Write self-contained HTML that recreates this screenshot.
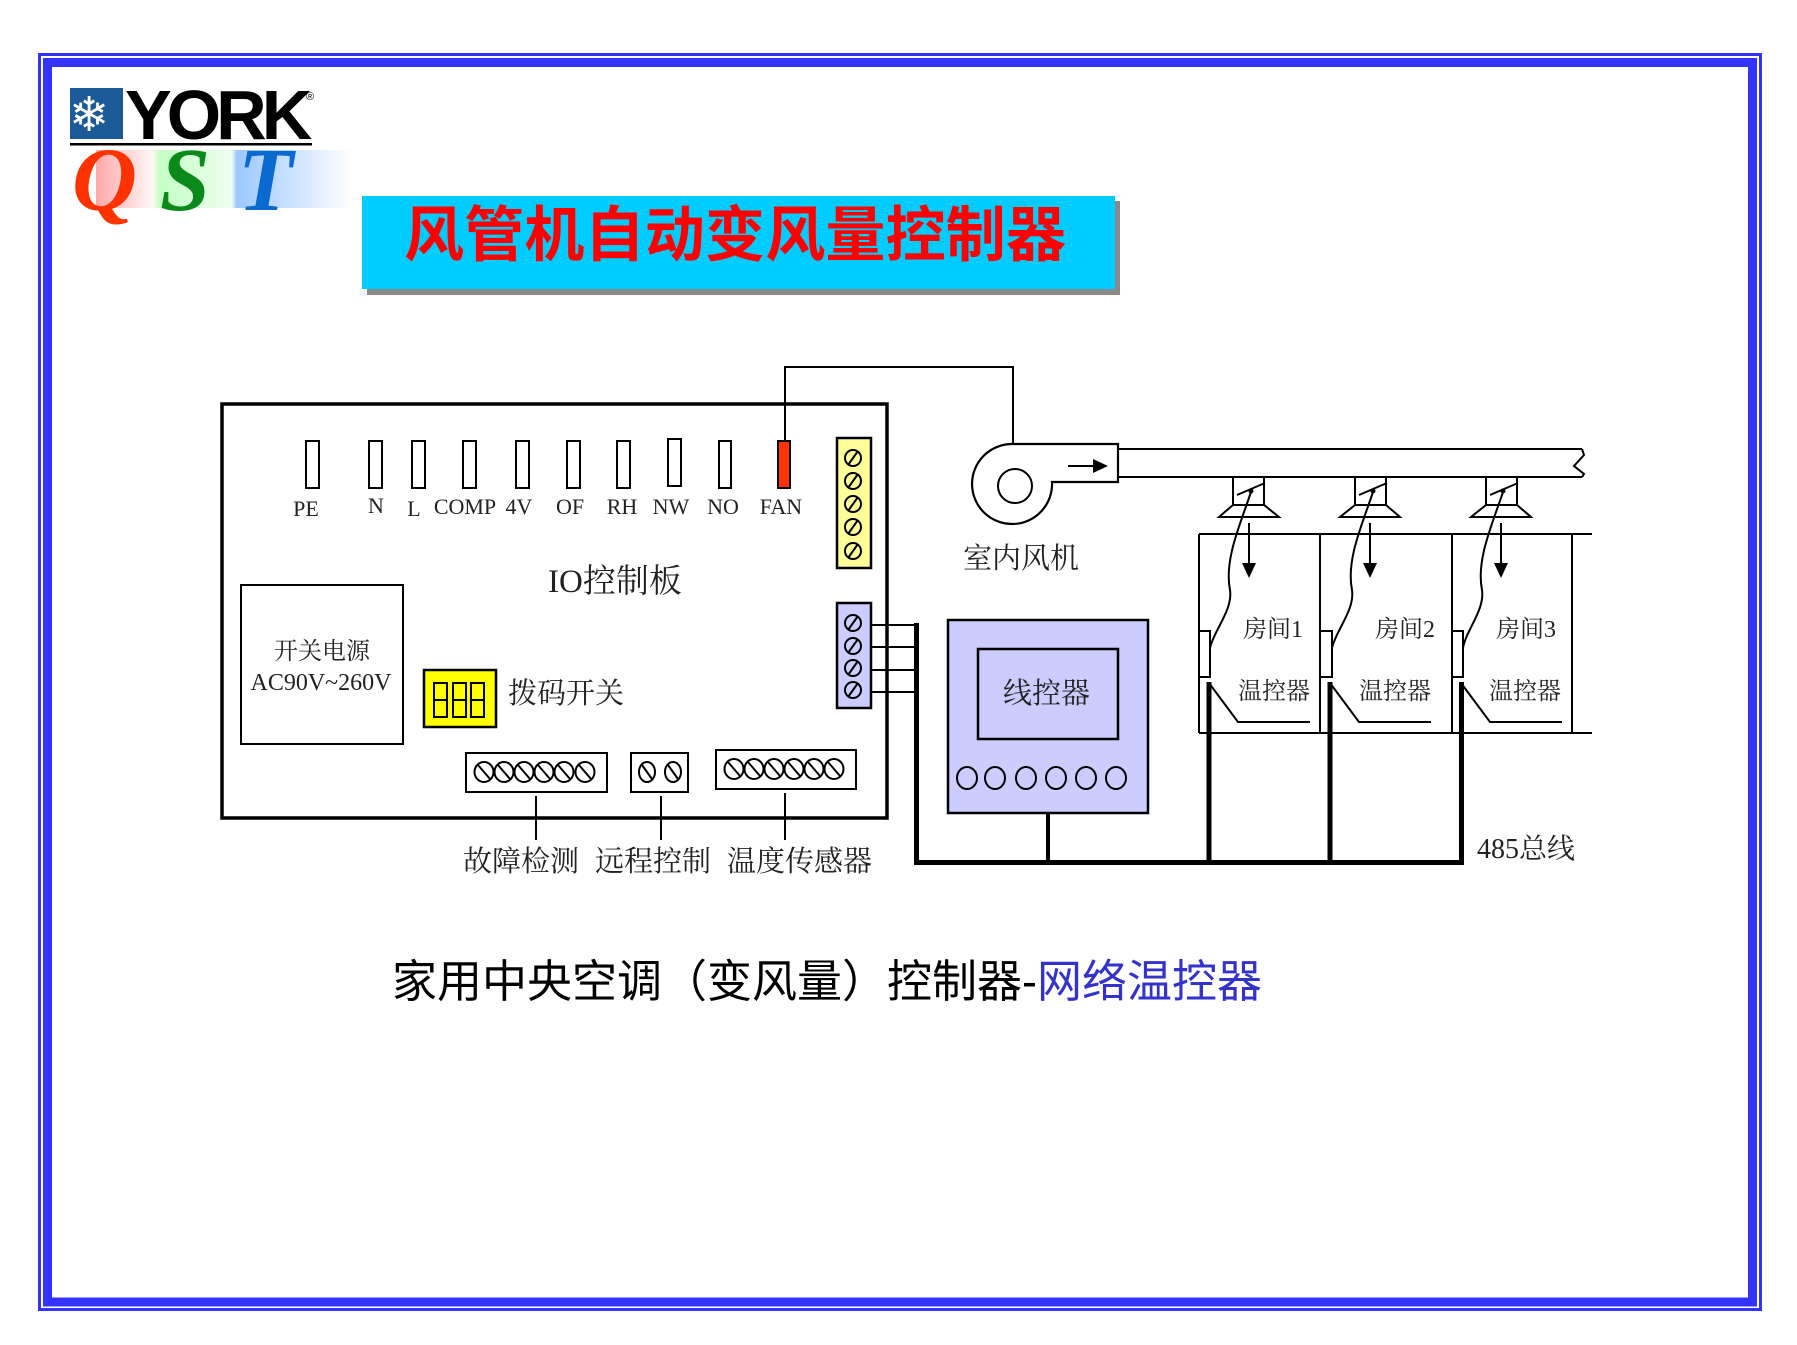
<!DOCTYPE html>
<html><head><meta charset="utf-8">
<style>
html,body{margin:0;padding:0;background:#fff;}
svg{display:block;}
.s{font-family:"Liberation Serif","Noto Serif CJK SC",serif;fill:#222;}
.c{font-family:"Noto Serif CJK SC","Liberation Serif",serif;fill:#222;}
</style></head>
<body>
<svg width="1797" height="1345" viewBox="0 0 1797 1345" xmlns="http://www.w3.org/2000/svg">
<defs>
<linearGradient id="qst" x1="96" y1="0" x2="352" y2="0" gradientUnits="userSpaceOnUse">
<stop offset="0" stop-color="#ffa8a8"/>
<stop offset="0.22" stop-color="#fff6f6"/>
<stop offset="0.25" stop-color="#c4ffc4"/>
<stop offset="0.53" stop-color="#effff0"/>
<stop offset="0.55" stop-color="#9cc8ff"/>
<stop offset="1" stop-color="#ffffff"/>
</linearGradient>
</defs>

<!-- page border -->
<rect x="39.5" y="54.5" width="1721" height="1255" fill="none" stroke="#3333ff" stroke-width="3"/>
<rect x="47.5" y="62.5" width="1705" height="1239.5" fill="none" stroke="#3333ff" stroke-width="9"/>

<!-- YORK logo -->
<rect x="70" y="88" width="53" height="51" fill="#1c5a97"/>
<text x="69" y="131" font-family="DejaVu Sans,sans-serif" font-size="48" fill="#fff">❄</text>
<text x="125" y="139" font-family="Liberation Sans,sans-serif" font-weight="700" font-size="70" letter-spacing="-5" fill="#000">YORK</text>
<text x="306" y="100" font-family="Liberation Sans,sans-serif" font-size="11" fill="#000">®</text>
<rect x="70" y="143" width="242" height="2.5" fill="#000"/>
<rect x="96" y="150" width="256" height="58" fill="url(#qst)"/>
<text x="72" y="210" font-family="Liberation Serif,serif" font-weight="700" font-style="italic" font-size="90" fill="#ff3300">Q</text>
<text x="160" y="210" font-family="Liberation Serif,serif" font-weight="700" font-style="italic" font-size="90" fill="#0a8a1a">S</text>
<text x="238" y="210" font-family="Liberation Serif,serif" font-weight="700" font-style="italic" font-size="90" fill="#0a6ad0">T</text>

<!-- Title -->
<rect x="367" y="201" width="753" height="94" fill="#8a8a8a"/>
<rect x="362" y="196" width="753" height="93" fill="#00ccff"/>
<text x="404" y="256" font-family="Noto Sans CJK SC,sans-serif" font-weight="700" font-size="60" fill="#ff0000" textLength="662" lengthAdjust="spacing">风管机自动变风量控制器</text>

<!-- IO board -->
<rect x="222" y="404" width="665" height="414" fill="none" stroke="#000" stroke-width="3.5"/>

<!-- terminals -->
<g fill="#fff" stroke="#000" stroke-width="2">
<rect x="306" y="441" width="13" height="47"/>
<rect x="369" y="441" width="13" height="47"/>
<rect x="412" y="441" width="13" height="47"/>
<rect x="463" y="441" width="13" height="47"/>
<rect x="516" y="441" width="13" height="47"/>
<rect x="567" y="441" width="13" height="47"/>
<rect x="617" y="441" width="13" height="47"/>
<rect x="668" y="439" width="13" height="47"/>
<rect x="719" y="441" width="12" height="47"/>
<rect x="778" y="441" width="12" height="47" fill="#ff3300"/>
</g>
<g class="s" font-size="22" text-anchor="middle">
<text x="306" y="516">PE</text>
<text x="376" y="513">N</text>
<text x="414" y="516">L</text>
<text x="465" y="514">COMP</text>
<text x="519" y="514">4V</text>
<text x="570" y="514">OF</text>
<text x="622" y="514">RH</text>
<text x="671" y="514">NW</text>
<text x="723" y="514">NO</text>
<text x="781" y="514">FAN</text>
</g>

<!-- FAN wire -->
<polyline points="785,441 785,367 1013,367 1013,444" fill="none" stroke="#000" stroke-width="2"/>

<!-- yellow terminal block -->
<rect x="837" y="438" width="34" height="130" fill="#ffff99" stroke="#000" stroke-width="2.5"/>
<g fill="none" stroke="#000" stroke-width="2">
<circle cx="853" cy="458" r="8"/><line x1="848" y1="465" x2="858" y2="451"/>
<circle cx="853" cy="481" r="8"/><line x1="848" y1="488" x2="858" y2="474"/>
<circle cx="853" cy="504" r="8"/><line x1="848" y1="511" x2="858" y2="497"/>
<circle cx="853" cy="527" r="8"/><line x1="848" y1="534" x2="858" y2="520"/>
<circle cx="853" cy="551" r="8"/><line x1="848" y1="558" x2="858" y2="544"/>
</g>

<!-- blue terminal block -->
<rect x="837" y="603" width="34" height="105" fill="#ccccff" stroke="#000" stroke-width="2.5"/>
<g fill="none" stroke="#000" stroke-width="2">
<circle cx="853" cy="623" r="8"/><line x1="848" y1="630" x2="858" y2="616"/>
<circle cx="853" cy="646" r="8"/><line x1="848" y1="653" x2="858" y2="639"/>
<circle cx="853" cy="668" r="8"/><line x1="848" y1="675" x2="858" y2="661"/>
<circle cx="853" cy="690" r="8"/><line x1="848" y1="697" x2="858" y2="683"/>
</g>
<g stroke="#000" stroke-width="2">
<line x1="871" y1="625" x2="917" y2="625"/>
<line x1="871" y1="647" x2="917" y2="647"/>
<line x1="871" y1="670" x2="917" y2="670"/>
<line x1="871" y1="692" x2="917" y2="692"/>
</g>

<!-- IO label -->
<text x="548" y="592" class="s" font-size="33">IO<tspan class="c">控制板</tspan></text>

<!-- power box -->
<rect x="241" y="585" width="162" height="159" fill="none" stroke="#000" stroke-width="2"/>
<text x="322" y="659" class="c" font-size="24" text-anchor="middle">开关电源</text>
<text x="321" y="690" class="s" font-size="24" text-anchor="middle">AC90V~260V</text>

<!-- DIP switch -->
<rect x="424" y="670" width="72" height="57" fill="#ffff00" stroke="#000" stroke-width="2.5"/>
<g fill="none" stroke="#000" stroke-width="2">
<rect x="434" y="683" width="13" height="34"/><line x1="434" y1="700" x2="447" y2="700"/>
<rect x="453" y="683" width="13" height="34"/><line x1="453" y1="700" x2="466" y2="700"/>
<rect x="471" y="683" width="13" height="34"/><line x1="471" y1="700" x2="484" y2="700"/>
</g>
<text x="508" y="703" class="c" font-size="29">拨码开关</text>

<!-- bottom terminal blocks -->
<g fill="none" stroke="#000" stroke-width="2">
<rect x="466" y="753" width="141" height="39"/>
<rect x="631" y="753" width="57" height="39"/>
<rect x="716" y="750" width="140" height="39"/>
</g>
<g fill="none" stroke="#000" stroke-width="2">
<ellipse cx="484" cy="772" rx="9.5" ry="10"/><line x1="478" y1="765" x2="490" y2="779"/>
<ellipse cx="504" cy="772" rx="9.5" ry="10"/><line x1="498" y1="765" x2="510" y2="779"/>
<ellipse cx="524" cy="772" rx="9.5" ry="10"/><line x1="518" y1="765" x2="530" y2="779"/>
<ellipse cx="544" cy="772" rx="9.5" ry="10"/><line x1="538" y1="765" x2="550" y2="779"/>
<ellipse cx="564" cy="772" rx="9.5" ry="10"/><line x1="558" y1="765" x2="570" y2="779"/>
<ellipse cx="585" cy="772" rx="9.5" ry="10"/><line x1="579" y1="765" x2="591" y2="779"/>
<ellipse cx="647" cy="772" rx="8" ry="10"/><line x1="642" y1="765" x2="652" y2="779"/>
<ellipse cx="673" cy="772" rx="8" ry="10"/><line x1="668" y1="765" x2="678" y2="779"/>
<ellipse cx="734" cy="769" rx="9.5" ry="10"/><line x1="728" y1="762" x2="740" y2="776"/>
<ellipse cx="754" cy="769" rx="9.5" ry="10"/><line x1="748" y1="762" x2="760" y2="776"/>
<ellipse cx="774" cy="769" rx="9.5" ry="10"/><line x1="768" y1="762" x2="780" y2="776"/>
<ellipse cx="794" cy="769" rx="9.5" ry="10"/><line x1="788" y1="762" x2="800" y2="776"/>
<ellipse cx="814" cy="769" rx="9.5" ry="10"/><line x1="808" y1="762" x2="820" y2="776"/>
<ellipse cx="834" cy="769" rx="9.5" ry="10"/><line x1="828" y1="762" x2="840" y2="776"/>
</g>
<g stroke="#000" stroke-width="2">
<line x1="536" y1="796" x2="536" y2="840"/>
<line x1="661" y1="796" x2="661" y2="840"/>
<line x1="785" y1="793" x2="785" y2="840"/>
</g>
<text x="463" y="871" class="c" font-size="29">故障检测</text>
<text x="595" y="871" class="c" font-size="29">远程控制</text>
<text x="727" y="871" class="c" font-size="29">温度传感器</text>

<!-- bus -->
<line x1="916.5" y1="623" x2="916.5" y2="865" stroke="#000" stroke-width="5"/>
<line x1="914" y1="862.5" x2="1464" y2="862.5" stroke="#000" stroke-width="5"/>

<!-- wire controller -->
<rect x="948" y="620" width="200" height="193" fill="#ccccff" stroke="#000" stroke-width="2.5"/>
<rect x="978" y="649" width="140" height="90" fill="#ccccff" stroke="#000" stroke-width="2.5"/>
<text x="1003" y="703" class="c" font-size="29">线控器</text>
<g fill="none" stroke="#000" stroke-width="2">
<ellipse cx="967" cy="778" rx="10" ry="11"/>
<ellipse cx="995" cy="778" rx="10" ry="11"/>
<ellipse cx="1026" cy="778" rx="10" ry="11"/>
<ellipse cx="1056" cy="778" rx="10" ry="11"/>
<ellipse cx="1086" cy="778" rx="10" ry="11"/>
<ellipse cx="1116" cy="778" rx="10" ry="11"/>
</g>
<line x1="1048" y1="813" x2="1048" y2="863" stroke="#000" stroke-width="4"/>

<!-- fan -->
<path d="M1013 444 L1118 444 L1118 482 L1052 482 A40 40 0 1 1 1013 444 Z" fill="#fff" stroke="#000" stroke-width="2.2"/>
<circle cx="1015" cy="486" r="17" fill="none" stroke="#000" stroke-width="2"/>
<line x1="1068" y1="466" x2="1095" y2="466" stroke="#000" stroke-width="2"/>
<polygon points="1093,459 1108,466 1093,473" fill="#000"/>
<text x="963" y="568" class="c" font-size="29">室内风机</text>

<!-- duct -->
<g fill="none" stroke="#000" stroke-width="2">
<line x1="1118" y1="449" x2="1582" y2="449"/>
<line x1="1118" y1="477" x2="1582" y2="477"/>
<polyline points="1582,449 1584,455 1574,466 1584,474 1582,477"/>
</g>

<!-- room lines -->
<g stroke="#000" stroke-width="2" fill="none">
<line x1="1199" y1="534" x2="1592" y2="534"/>
<line x1="1199" y1="733" x2="1592" y2="733"/>
<line x1="1199" y1="534" x2="1199" y2="733"/>
<line x1="1320" y1="534" x2="1320" y2="733"/>
<line x1="1452" y1="534" x2="1452" y2="733"/>
<line x1="1572" y1="534" x2="1572" y2="733"/>
</g>

<!-- room 1 -->
<g fill="none" stroke="#000" stroke-width="2">
<rect x="1233" y="477" width="31" height="28" fill="#fff"/>
<polygon points="1233,505 1219,517 1279,517 1264,505" fill="#fff"/>
<line x1="1237" y1="495" x2="1265" y2="483"/>
<path d="M1251 492 C1240 525 1224 560 1230 590 C1233 610 1214 630 1210 648"/>
<line x1="1249" y1="523" x2="1249" y2="566"/>
<rect x="1199" y="631" width="11" height="46" fill="#fff"/>
<polyline points="1209,683 1238,722 1310,722"/>
</g>
<circle cx="1251" cy="491" r="2.5" fill="#000"/>
<polygon points="1242,563 1256,563 1249,578" fill="#000"/>
<line x1="1209" y1="682" x2="1209" y2="865" stroke="#000" stroke-width="5"/>
<text x="1243" y="637" class="c" font-size="24">房间<tspan class="s">1</tspan></text>
<text x="1238" y="699" class="c" font-size="24">温控器</text>

<!-- room 2 -->
<g fill="none" stroke="#000" stroke-width="2">
<rect x="1355" y="477" width="31" height="28" fill="#fff"/>
<polygon points="1355,505 1340,517 1400,517 1386,505" fill="#fff"/>
<line x1="1359" y1="495" x2="1387" y2="483"/>
<path d="M1373 492 C1362 525 1346 560 1352 590 C1355 610 1336 630 1332 648"/>
<line x1="1370" y1="523" x2="1370" y2="566"/>
<rect x="1320" y="631" width="12" height="46" fill="#fff"/>
<polyline points="1330,683 1359,722 1431,722"/>
</g>
<circle cx="1373" cy="491" r="2.5" fill="#000"/>
<polygon points="1363,563 1377,563 1370,578" fill="#000"/>
<line x1="1330" y1="682" x2="1330" y2="865" stroke="#000" stroke-width="5"/>
<text x="1375" y="637" class="c" font-size="24">房间<tspan class="s">2</tspan></text>
<text x="1359" y="699" class="c" font-size="24">温控器</text>

<!-- room 3 -->
<g fill="none" stroke="#000" stroke-width="2">
<rect x="1486" y="477" width="31" height="28" fill="#fff"/>
<polygon points="1486,505 1471,517 1531,517 1517,505" fill="#fff"/>
<line x1="1490" y1="495" x2="1518" y2="483"/>
<path d="M1503 492 C1492 525 1476 560 1482 590 C1485 610 1466 630 1463 648"/>
<line x1="1501" y1="523" x2="1501" y2="566"/>
<rect x="1452" y="631" width="11" height="46" fill="#fff"/>
<polyline points="1461,683 1490,722 1562,722"/>
</g>
<circle cx="1503" cy="491" r="2.5" fill="#000"/>
<polygon points="1494,563 1508,563 1501,578" fill="#000"/>
<line x1="1461.5" y1="682" x2="1461.5" y2="865" stroke="#000" stroke-width="5"/>
<text x="1496" y="637" class="c" font-size="24">房间<tspan class="s">3</tspan></text>
<text x="1489" y="699" class="c" font-size="24">温控器</text>

<text x="1477" y="858" class="s" font-size="28">485<tspan class="c">总线</tspan></text>

<!-- caption -->
<text x="392" y="997" font-family="Noto Sans CJK SC,sans-serif" font-size="45" fill="#000">家用中央空调（变风量）控制器<tspan font-family="Liberation Sans,sans-serif">-</tspan><tspan fill="#3333cc">网络温控器</tspan></text>
</svg>
</body></html>
